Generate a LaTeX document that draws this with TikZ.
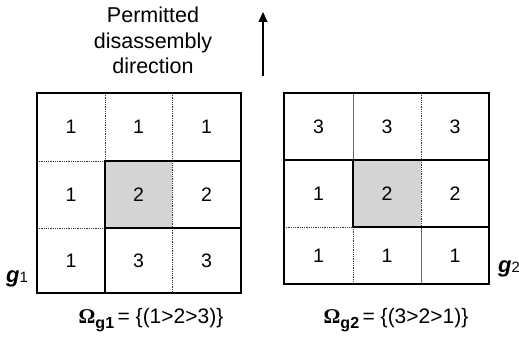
\documentclass[tikz,border=0pt]{standalone}
\usepackage{fontspec}
\setmainfont{Liberation Sans}
\newfontfamily\omserif{Liberation Serif}
\usetikzlibrary{arrows.meta}
\definecolor{cellgray}{RGB}{212,212,214}
\tikzset{
  thickline/.style={line width=1.9pt, line cap=rect},
  dotline/.style={line width=0.8pt, densely dotted, black!80},
  thinline/.style={line width=0.7pt, black!60},
  num/.style={font=\fontsize{19.5}{19.5}\selectfont, anchor=center, inner sep=0pt},
  lab/.style={inner sep=0pt, anchor=base west},
}
\begin{document}
\begin{tikzpicture}[x=1pt,y=-1pt]
\useasboundingbox (0,0) rectangle (519,342);
% ---------- Grid 1 ----------
\fill[cellgray] (105,161) rectangle (172,228);
\draw[dotline] (105,93) -- (105,161);
\draw[dotline] (172,93) -- (172,293);
\draw[dotline] (37,161) -- (105,161);
\draw[dotline] (37,228) -- (105,228);
\draw[thickline] (105,161) -- (241,161);
\draw[thickline] (105,228) -- (241,228);
\draw[thickline] (105,161) -- (105,293);
\draw[thickline] (37,93) rectangle (241,293);
\node[num] (a11) at (71,127) {1};
\node[num] (a12) at (138.5,127) {1};
\node[num] (a13) at (206.5,127) {1};
\node[num] (a21) at (71,194.5) {1};
\node[num] (a22) at (138.5,194.5) {2};
\node[num] (a23) at (206.5,194.5) {2};
\node[num] (a31) at (71,260.5) {1};
\node[num] (a32) at (138.5,260.5) {3};
\node[num] (a33) at (206.5,260.5) {3};
% ---------- Grid 2 ----------
\fill[cellgray] (353,160) rectangle (421,227);
\draw[thinline] (353,93) -- (353,160);
\draw[dotline] (421,93) -- (421,160);
\draw[dotline] (421,160) -- (421,227);
\draw[dotline] (284,227) -- (353,227);
\draw[dotline] (353,227) -- (353,284);
\draw[thinline] (421,227) -- (421,284);
\draw[thickline] (284,160) -- (489,160);
\draw[thickline] (353,160) -- (353,227);
\draw[thickline] (353,227) -- (489,227);
\draw[thickline] (284,93) rectangle (489,284);
\node[num] (b11) at (318.5,126.5) {3};
\node[num] (b12) at (387,126.5) {3};
\node[num] (b13) at (455,126.5) {3};
\node[num] (b21) at (318.5,193.5) {1};
\node[num] (b22) at (387,193.5) {2};
\node[num] (b23) at (455,193.5) {2};
\node[num] (b31) at (318.5,255.5) {1};
\node[num] (b32) at (387,255.5) {1};
\node[num] (b33) at (455,255.5) {1};
% ---------- labels ----------
\node[lab] (g1) at (6,282) {\fontsize{22}{22}\selectfont\bfseries\itshape g\normalfont\fontsize{15}{15}\selectfont 1};
\node[lab] (g2) at (498,272) {\fontsize{22}{22}\selectfont\bfseries\itshape g\normalfont\fontsize{15}{15}\selectfont 2};
\node[inner sep=0pt, anchor=base] (om1) at (151,323) {\fontsize{21}{21}\selectfont{\omserif\bfseries Ω}\raisebox{-0.28em}{\fontsize{16}{16}\selectfont\bfseries g1}\,= \{(1>2>3)\}};
\node[inner sep=0pt, anchor=base] (om2) at (396,323) {\fontsize{21}{21}\selectfont{\omserif\bfseries Ω}\raisebox{-0.28em}{\fontsize{16}{16}\selectfont\bfseries g2}\,= \{(3>2>1)\}};
% ---------- direction ----------
\node[align=center, inner sep=0pt, anchor=base, font=\fontsize{21.5}{25.5}\selectfont] (dir) at (153,74) {Permitted\\disassembly\\direction};
\coordinate (arrS) at (263,76);
\coordinate (arrE) at (263,12);
\draw[line width=1.1pt, -{Triangle[length=10pt,width=9pt]}] (arrS) -- (arrE);
\end{tikzpicture}
\end{document}
